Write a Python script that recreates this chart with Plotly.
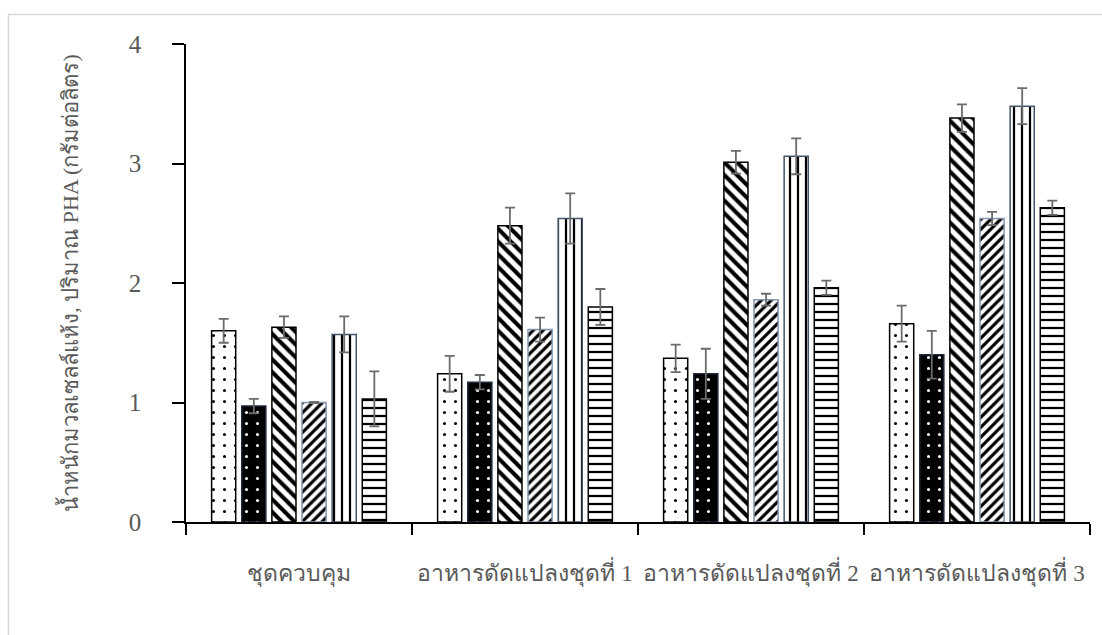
import plotly.graph_objects as go

categories = ["ชุดควบคุม", "อาหารดัดแปลงชุดที่ 1", "อาหารดัดแปลงชุดที่ 2", "อาหารดัดแปลงชุดที่ 3"]
series_names = ["S1", "S2", "S3", "S4", "S5", "S6"]
values = [
    [1.60, 1.24, 1.37, 1.66],
    [0.97, 1.17, 1.24, 1.40],
    [1.63, 2.48, 3.01, 3.38],
    [1.00, 1.61, 1.86, 2.54],
    [1.57, 2.54, 3.06, 3.48],
    [1.03, 1.80, 1.96, 2.63],
]
errors = [
    [0.10, 0.15, 0.115, 0.15],
    [0.06, 0.06, 0.21, 0.20],
    [0.09, 0.15, 0.095, 0.115],
    [0.005, 0.10, 0.05, 0.055],
    [0.15, 0.21, 0.15, 0.15],
    [0.23, 0.15, 0.06, 0.06],
]
y_ticks = [0, 1, 2, 3, 4]

styles = [
    dict(shape=".", bg="white", fg="black", size=11, sol=0.06, line="#000000"),
    dict(shape=".", bg="black", fg="white", size=11, sol=0.06, line="#1f2a3a"),
    dict(shape="\\", bg="white", fg="black", size=9, sol=0.45, line="#000000"),
    dict(shape="/", bg="white", fg="black", size=7, sol=0.45, line="#8496b0"),
    dict(shape="|", bg="white", fg="black", size=8, sol=0.28, line="#44546a"),
    dict(shape="-", bg="white", fg="black", size=8, sol=0.28, line="#000000"),
]

fig = go.Figure()
for name, vals, errs, st in zip(series_names, values, errors, styles):
    fig.add_trace(go.Bar(
        name=name, x=categories, y=vals,
        marker=dict(
            color=st["bg"],
            line=dict(color=st["line"], width=1.5),
            pattern=dict(shape=st["shape"], bgcolor=st["bg"], fgcolor=st["fg"],
                         size=st["size"], solidity=st["sol"], fillmode="replace"),
        ),
        error_y=dict(type="data", array=errs, visible=True, color="#6b6b6b",
                     thickness=1.8, width=5),
    ))

fig.update_layout(
    width=1102, height=635,
    barmode="group", bargap=0.2, bargroupgap=0.2,
    showlegend=False,
    plot_bgcolor="white", paper_bgcolor="white",
    margin=dict(l=186, r=12, t=44, b=113),
    font=dict(family="Liberation Serif", color="#595959"),
    xaxis=dict(
        showline=True, linecolor="black", linewidth=1.5,
        ticks="outside", tickson="boundaries", ticklen=11, tickcolor="black", tickwidth=1.5,
        tickfont=dict(size=23, color="#595959", family="Liberation Serif"),
        ticklabelstandoff=30,
        showgrid=False,
    ),
    yaxis=dict(
        range=[0, 4], tickvals=y_ticks,
        showline=True, linecolor="black", linewidth=1.5,
        ticks="outside", ticklen=12, tickcolor="black", tickwidth=1.5,
        tickfont=dict(size=25, color="#595959", family="Liberation Serif"),
        ticklabelstandoff=26,
        showgrid=False, zeroline=False,
        title=dict(text="น้ำหนักมวลเซลล์แห้ง, ปริมาณ PHA (กรัมต่อลิตร)",
                   font=dict(size=22, color="#595959", family="Liberation Serif"),
                   standoff=44),
    ),
    shapes=[dict(type="rect", xref="paper", yref="paper",
                 x0=-0.1964, x1=1.04, y0=-0.3, y1=1.0617,
                 line=dict(color="#d9d9d9", width=1.5), fillcolor="rgba(0,0,0,0)", layer="below")],
)

fig.write_html("out.html")
